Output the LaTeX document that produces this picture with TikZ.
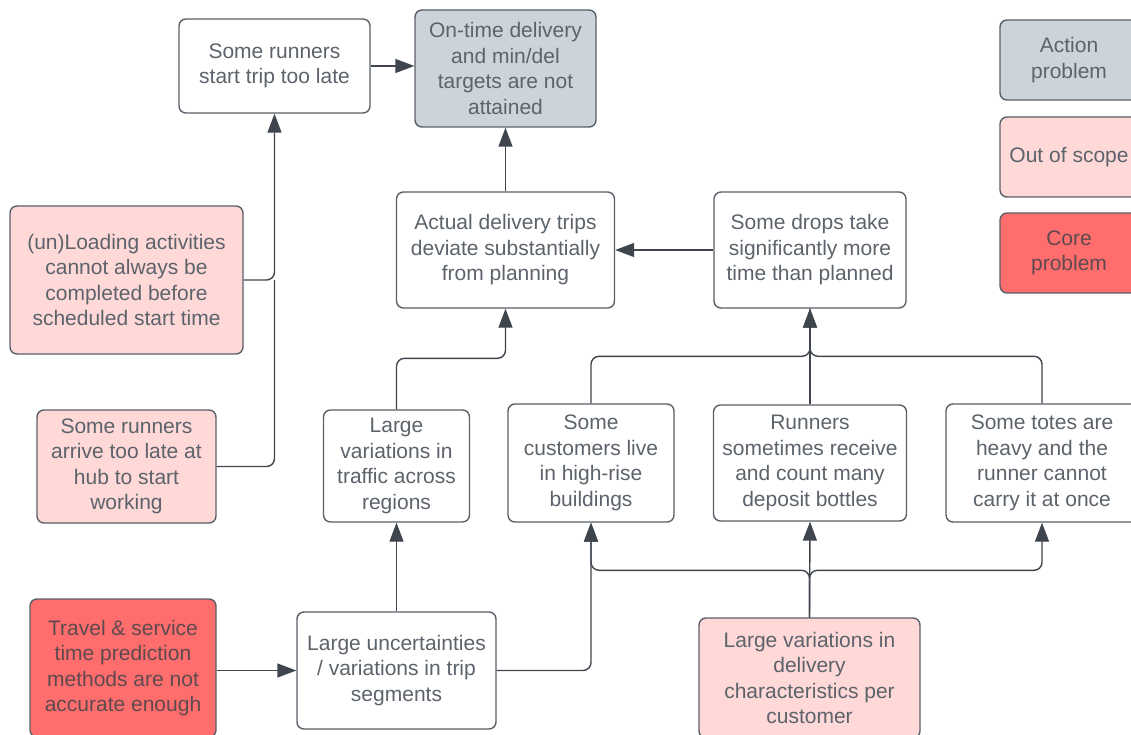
\documentclass[tikz,border=0pt]{standalone}
\usepackage{fontspec}
\setmainfont{Liberation Sans}
\usetikzlibrary{arrows.meta}

\definecolor{edgecol}{HTML}{5A6068}
\definecolor{linecol}{HTML}{3F454D}
\definecolor{txtcol}{HTML}{5C636B}
\definecolor{actionfill}{HTML}{CDD3DB}
\definecolor{scopefill}{HTML}{FFD8D8}
\definecolor{corefill}{HTML}{FF6D6D}
\definecolor{coretxt}{HTML}{5E4A4E}

\tikzset{
  box/.style={draw=edgecol, line width=1.4pt, rounded corners=7pt, fill=white,
    align=center, text=txtcol, inner sep=0pt,
    font=\fontsize{21}{25.5}\selectfont},
  action/.style={box, fill=actionfill},
  scope/.style={box, fill=scopefill},
  core/.style={box, fill=corefill, text=coretxt},
  ln/.style={draw=linecol, line width=1.4pt, rounded corners=8pt},
  arr/.style={ln, -{Triangle[length=19pt,width=14pt]}},
}

\begin{document}
\begin{tikzpicture}[x=1pt, y=-1pt]
\useasboundingbox (0,0) rectangle (1131,735);
\clip (0,0) rectangle (1131,735);

% top row
\node[box, minimum width=191pt, minimum height=94pt] (late) at (274.5,66) {Some runners\\start trip too late};
\node[action, minimum width=181pt, minimum height=117pt] (goal) at (505.5,68.5) {On-time delivery\\and min/del\\targets are not\\attained};

% legend
\node[action, minimum width=138pt, minimum height=80pt] (legA) at (1069,60) {Action\\problem};
\node[scope, minimum width=138pt, minimum height=80pt] (legS) at (1069,157) {Out of scope};
\node[core, minimum width=138pt, minimum height=80pt] (legC) at (1069,253) {Core\\problem};

% left column
\node[scope, minimum width=233pt, minimum height=148pt] (load) at (126.5,280) {(un)Loading activities\\cannot always be\\completed before\\scheduled start time};
\node[scope, minimum width=179pt, minimum height=113pt] (arrive) at (126.5,466.5) {Some runners\\arrive too late at\\hub to start\\working};

% middle row
\node[box, minimum width=218pt, minimum height=116pt] (actual) at (505.5,250) {Actual delivery trips\\deviate substantially\\from planning};
\node[box, minimum width=192pt, minimum height=116pt] (drops) at (810,250) {Some drops take\\significantly more\\time than planned};

% lower row
\node[box, minimum width=146pt, minimum height=112pt] (traffic) at (396.5,466) {Large\\variations in\\traffic across\\regions};
\node[box, minimum width=166pt, minimum height=118pt] (highrise) at (591,463) {Some\\customers live\\in high-rise\\buildings};
\node[box, minimum width=193pt, minimum height=116pt] (bottles) at (810,463) {Runners\\sometimes receive\\and count many\\deposit bottles};
\node[box, minimum width=192pt, minimum height=118pt] (totes) at (1042,463) {Some totes are\\heavy and the\\runner cannot\\carry it at once};

% bottom row
\node[core, minimum width=186pt, minimum height=138pt] (travel) at (123,668) {Travel \& service\\time prediction\\methods are not\\accurate enough};
\node[box, minimum width=199pt, minimum height=117pt] (uncert) at (396.5,670.5) {Large uncertainties\\/ variations in trip\\segments};
\node[scope, minimum width=221pt, minimum height=120pt] (deliv) at (809.5,678) {Large variations in\\delivery\\characteristics per\\customer};

% cause-effect links
\draw[arr] (late.east) -- (late.east -| goal.west);
\draw[arr] (actual.north) -- (goal.south);
\draw[arr] (drops.west) -- (actual.east);

\draw[arr] (load.east) -| (late.south);
\draw[ln] (arrive.east) -| (load.east -| late.south);

\draw[arr] (traffic.north) -- ++(0,-51) -| (actual.south);

\draw[arr] (highrise.north) -- ++(0,-47) -| (drops.south);
\draw[arr] (bottles.north) -- (drops.south);
\draw[ln] (totes.north) -- ++(0,-47) -| (drops.south);

\draw[arr] (uncert.north) -- (traffic.south);
\draw[arr] (travel.east |- uncert.west) -- (uncert.west);
\draw[arr] (uncert.east) -| (highrise.south);

\draw[arr] (deliv.north) -- (bottles.south);
\draw[arr] (deliv.north) -- ++(0,-47) -| (highrise.south);
\draw[arr] (deliv.north) -- ++(0,-47) -| (totes.south);

\end{tikzpicture}
\end{document}
